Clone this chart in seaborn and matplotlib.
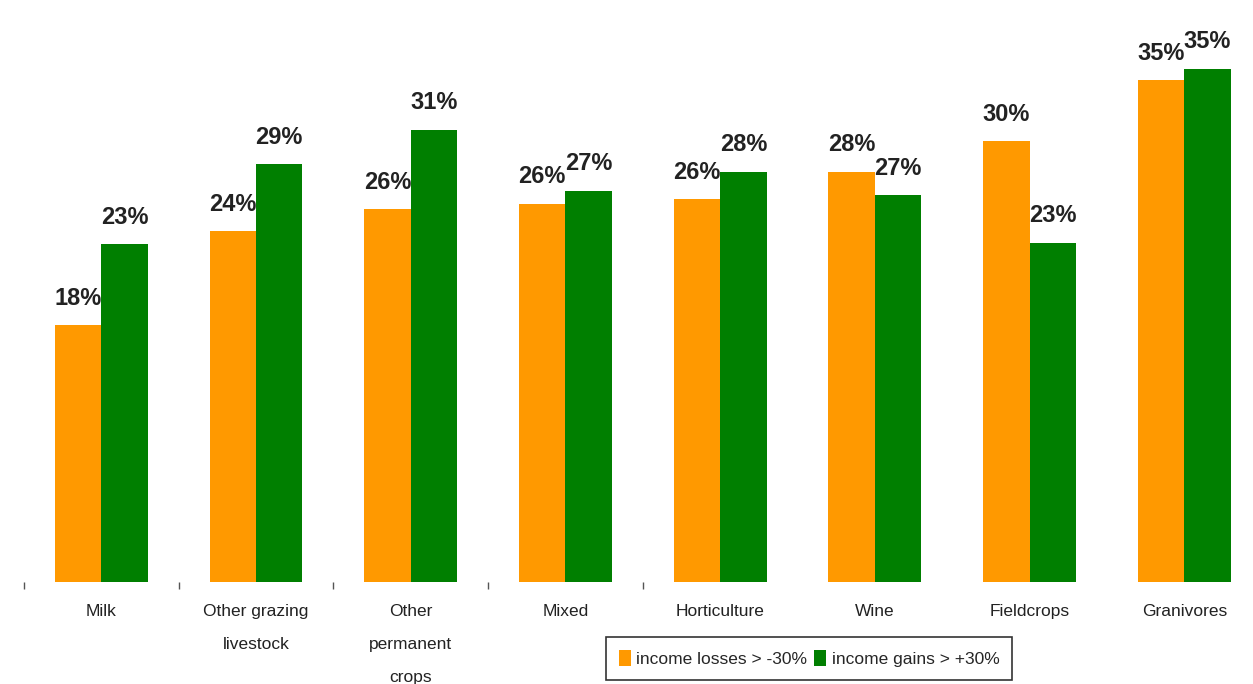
import numpy as np
import pandas as pd
import seaborn as sns
import matplotlib.pyplot as plt

# values (percent of farms)
categories = ['Milk', 'Other grazing\nlivestock', 'Other\npermanent\ncrops', 'Mixed',
              'Horticulture', 'Wine', 'Fieldcrops', 'Granivores']
losses = [17.7, 24.2, 25.7, 26.1, 26.4, 28.3, 30.4, 34.6]
gains = [23.3, 28.8, 31.2, 27.0, 28.3, 26.7, 23.4, 35.4]
series = ['income losses > -30%', 'income gains > +30%']
colors = ['#FF9900', '#007F00']

df = pd.DataFrame({
    'category': categories * 2,
    'share': losses + gains,
    'series': [series[0]] * len(categories) + [series[1]] * len(categories),
})

sns.set_style('white')
plt.rcParams['font.family'] = ['Liberation Sans', 'DejaVu Sans']

fig = plt.figure(figsize=(12.53, 6.84), dpi=100)
ax = fig.add_axes([24 / 1253, 102 / 684, 1229 / 1253, 551 / 684])

sns.barplot(data=df, x='category', y='share', hue='series', palette=colors,
            width=0.6, saturation=1, linewidth=0, ax=ax, legend=True)

for cont in ax.containers:
    ax.bar_label(cont, fmt='%.0f%%', padding=11, fontsize=17, fontweight='bold',
                 color='#222222')

ax.set_xlim(-0.5, 7.444)
ax.set_ylim(0, 38)
ax.set_xlabel('')
ax.set_ylabel('')
ax.set_yticks([])
for s in ax.spines.values():
    s.set_visible(False)

ax.set_xticks(range(len(categories)), categories, linespacing=2.5)
ax.tick_params(axis='x', which='major', length=0, pad=16, labelsize=12.5,
               labelcolor='#222222')
ax.set_xticks(np.arange(-0.5, 4, 1), minor=True)
ax.tick_params(axis='x', which='minor', bottom=True, length=5, width=1,
               color='#555555', direction='out')

leg = ax.legend(loc='upper left', bbox_to_anchor=(606 / 1253, 47 / 684),
                bbox_transform=fig.transFigure, ncol=2, frameon=True, fancybox=False,
                fontsize=12.5, handlelength=0.7, handleheight=1.0, handletextpad=0.3,
                columnspacing=0.4, borderpad=0.75, borderaxespad=0)
leg.get_frame().set_edgecolor('black')
leg.get_frame().set_linewidth(1.2)

fig.savefig('out.png', dpi=100)
